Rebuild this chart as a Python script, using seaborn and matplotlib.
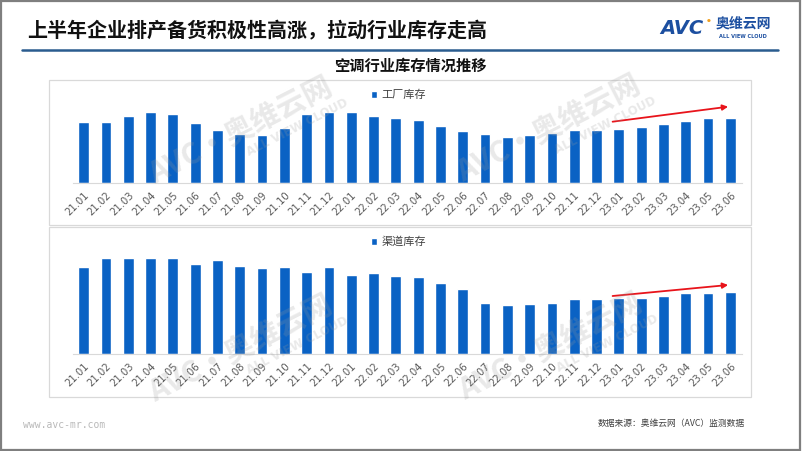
import matplotlib
matplotlib.use("Agg")
import matplotlib.pyplot as plt
from matplotlib.patches import Rectangle
from matplotlib.lines import Line2D
import seaborn as sns
import pandas as pd
import math

# ---- data (relative inventory levels) ----
months = ["21.01", "21.02", "21.03", "21.04", "21.05", "21.06", "21.07", "21.08", "21.09", "21.10",
          "21.11", "21.12", "22.01", "22.02", "22.03", "22.04", "22.05", "22.06", "22.07", "22.08",
          "22.09", "22.10", "22.11", "22.12", "23.01", "23.02", "23.03", "23.04", "23.05", "23.06"]
factory_stock = [61.3, 61.0, 67.0, 71.3, 69.0, 60.6, 53.3, 49.6, 48.0, 55.0,
                 69.3, 71.3, 71.3, 67.6, 65.0, 63.3, 57.6, 52.3, 49.0, 46.6,
                 48.3, 50.6, 53.0, 53.6, 54.0, 56.6, 59.6, 62.6, 65.0, 65.0]
channel_stock = [87.3, 95.7, 95.7, 95.7, 95.7, 90.0, 93.7, 88.0, 86.3, 87.0,
                 82.3, 87.0, 79.3, 80.7, 77.7, 76.7, 70.7, 65.0, 51.0, 49.3,
                 50.3, 50.7, 54.7, 54.7, 55.7, 56.0, 58.3, 61.0, 61.3, 62.0]
series_names = ["工厂库存", "渠道库存"]
title = "上半年企业排产备货积极性高涨，拉动行业库存走高"
subtitle = "空调行业库存情况推移"
source = "数据来源：奥维云网（AVC）监测数据"
website = "www.avc-mr.com"

BAR = "#0A62C4"
W, H = 802, 451

sns.set_theme(style="white")
plt.rcParams["font.family"] = ["Noto Sans CJK SC", "DejaVu Sans"]

fig = plt.figure(figsize=(W / 100, H / 100), dpi=100)
fig.patch.set_facecolor("white")


def fx(x):
    return x / W


def fy(y):
    return 1 - y / H


# outer slide border
fig.add_artist(Rectangle((0.0015, 0.002), 0.996, 0.995, transform=fig.transFigure,
                         fill=False, edgecolor="#7F7F7F", lw=1.6, zorder=0))

# title + rule
fig.text(fx(27), fy(31), title, fontsize=14.4, fontweight="bold", color="#111111",
         ha="left", va="center")
fig.add_artist(Line2D([fx(22), fx(778)], [fy(50), fy(50)], transform=fig.transFigure,
                      color="#2A5C8F", lw=1.8))

# logo
fig.text(fx(660), fy(28), "AVC", fontsize=14, fontweight="bold", fontstyle="italic",
         color="#1C4FA0", ha="left", va="center", family=["DejaVu Sans"])
fig.text(fx(708.5), fy(21), "●", fontsize=3.2, color="#F0A020", ha="center", va="center",
         family=["DejaVu Sans"])
fig.text(fx(743), fy(24), "奥维云网", fontsize=10, fontweight="bold", color="#1C4FA0",
         ha="center", va="center")
fig.text(fx(743), fy(37), "ALL VIEW CLOUD", fontsize=3.6, fontweight="bold", color="#1C4FA0",
         ha="center", va="center", family=["DejaVu Sans"])

# subtitle
fig.text(fx(410), fy(66), subtitle, fontsize=11, fontweight="bold", color="#111111",
         ha="center", va="center")

# panel frames
for (y0, y1) in [(80, 225), (227, 397)]:
    fig.add_artist(Rectangle((fx(49), fy(y1)), fx(751) - fx(49), fy(y0) - fy(y1),
                             transform=fig.transFigure, fill=False,
                             edgecolor="#D9D9D9", lw=0.9, zorder=0))

axL = fx(72.5)
axW = 669 / W
panels = [
    (factory_stock, series_names[0], 183.3, 90, 93.3, 95, (23.72, 61.6, 28.9, 76.6)),
    (channel_stock, series_names[1], 354.0, 240, 114.0, 242, (23.72, 58.0, 28.9, 69.0)),
]

for vals, name, base, top, ymax, leg_y, arr in panels:
    ax = fig.add_axes([axL, fy(base), axW, (base - top) / H])
    ax.set_facecolor("none")
    df = pd.DataFrame({"month": months, "value": vals})
    sns.barplot(data=df, x="month", y="value", color=BAR, width=0.48, ax=ax,
                label=name, saturation=1)
    ax.set_xlim(-0.5, len(months) - 0.5)
    ax.set_ylim(0, ymax)
    ax.set_xlabel("")
    ax.set_ylabel("")
    ax.set_yticks([])
    for s in ["top", "left", "right"]:
        ax.spines[s].set_visible(False)
    ax.spines["bottom"].set_color("#D9D9D9")
    ax.spines["bottom"].set_linewidth(0.8)
    ax.tick_params(axis="x", length=0, pad=5)
    ax.set_xticks(range(len(months)))
    ax.set_xticklabels(months, rotation=45, ha="right", rotation_mode="anchor",
                       fontsize=7.2, color="#595959", family=["DejaVu Sans"])
    leg = ax.legend(loc="center left", bbox_to_anchor=(fx(371), fy(leg_y)),
                    bbox_transform=fig.transFigure, frameon=False, fontsize=8,
                    handlelength=0.55, handleheight=0.55, handletextpad=0.4,
                    borderpad=0, borderaxespad=0)
    for t in leg.get_texts():
        t.set_color("#404040")
    x0, y0, x1, y1 = arr
    ax.annotate("", xy=(x1, y1), xytext=(x0, y0),
                arrowprops=dict(arrowstyle="-|>", color="#E8141B", lw=1.3,
                                mutation_scale=8, shrinkA=0, shrinkB=0),
                annotation_clip=False)

# watermarks
ang = 27
ca, sa = math.cos(math.radians(ang)), math.sin(math.radians(ang))
wm_centers = [(240, 130), (548, 128), (240, 348), (550, 346)]
for cx, cy in wm_centers:
    fig.text(fx(cx), fy(cy), "AVC·奥维云网", fontsize=21, fontweight="bold",
             color="#9A9A9A", alpha=0.22, rotation=ang, ha="center", va="center",
             rotation_mode="anchor", zorder=10)
    ox = cx + 52 * ca + 24 * sa
    oy = cy - 52 * sa + 24 * ca
    fig.text(fx(ox), fy(oy), "ALL VIEW CLOUD", fontsize=8.5, fontweight="bold",
             color="#9A9A9A", alpha=0.22, rotation=ang, ha="center", va="center",
             rotation_mode="anchor", zorder=10, family=["DejaVu Sans"])

# footer
fig.text(fx(23), fy(425), website, fontsize=7, color="#B8B8B8", ha="left", va="center",
         family=["DejaVu Sans Mono"])
fig.text(fx(745), fy(423), source, fontsize=6.3, color="#404040", ha="right", va="center")

fig.savefig("out.png", dpi=100)
